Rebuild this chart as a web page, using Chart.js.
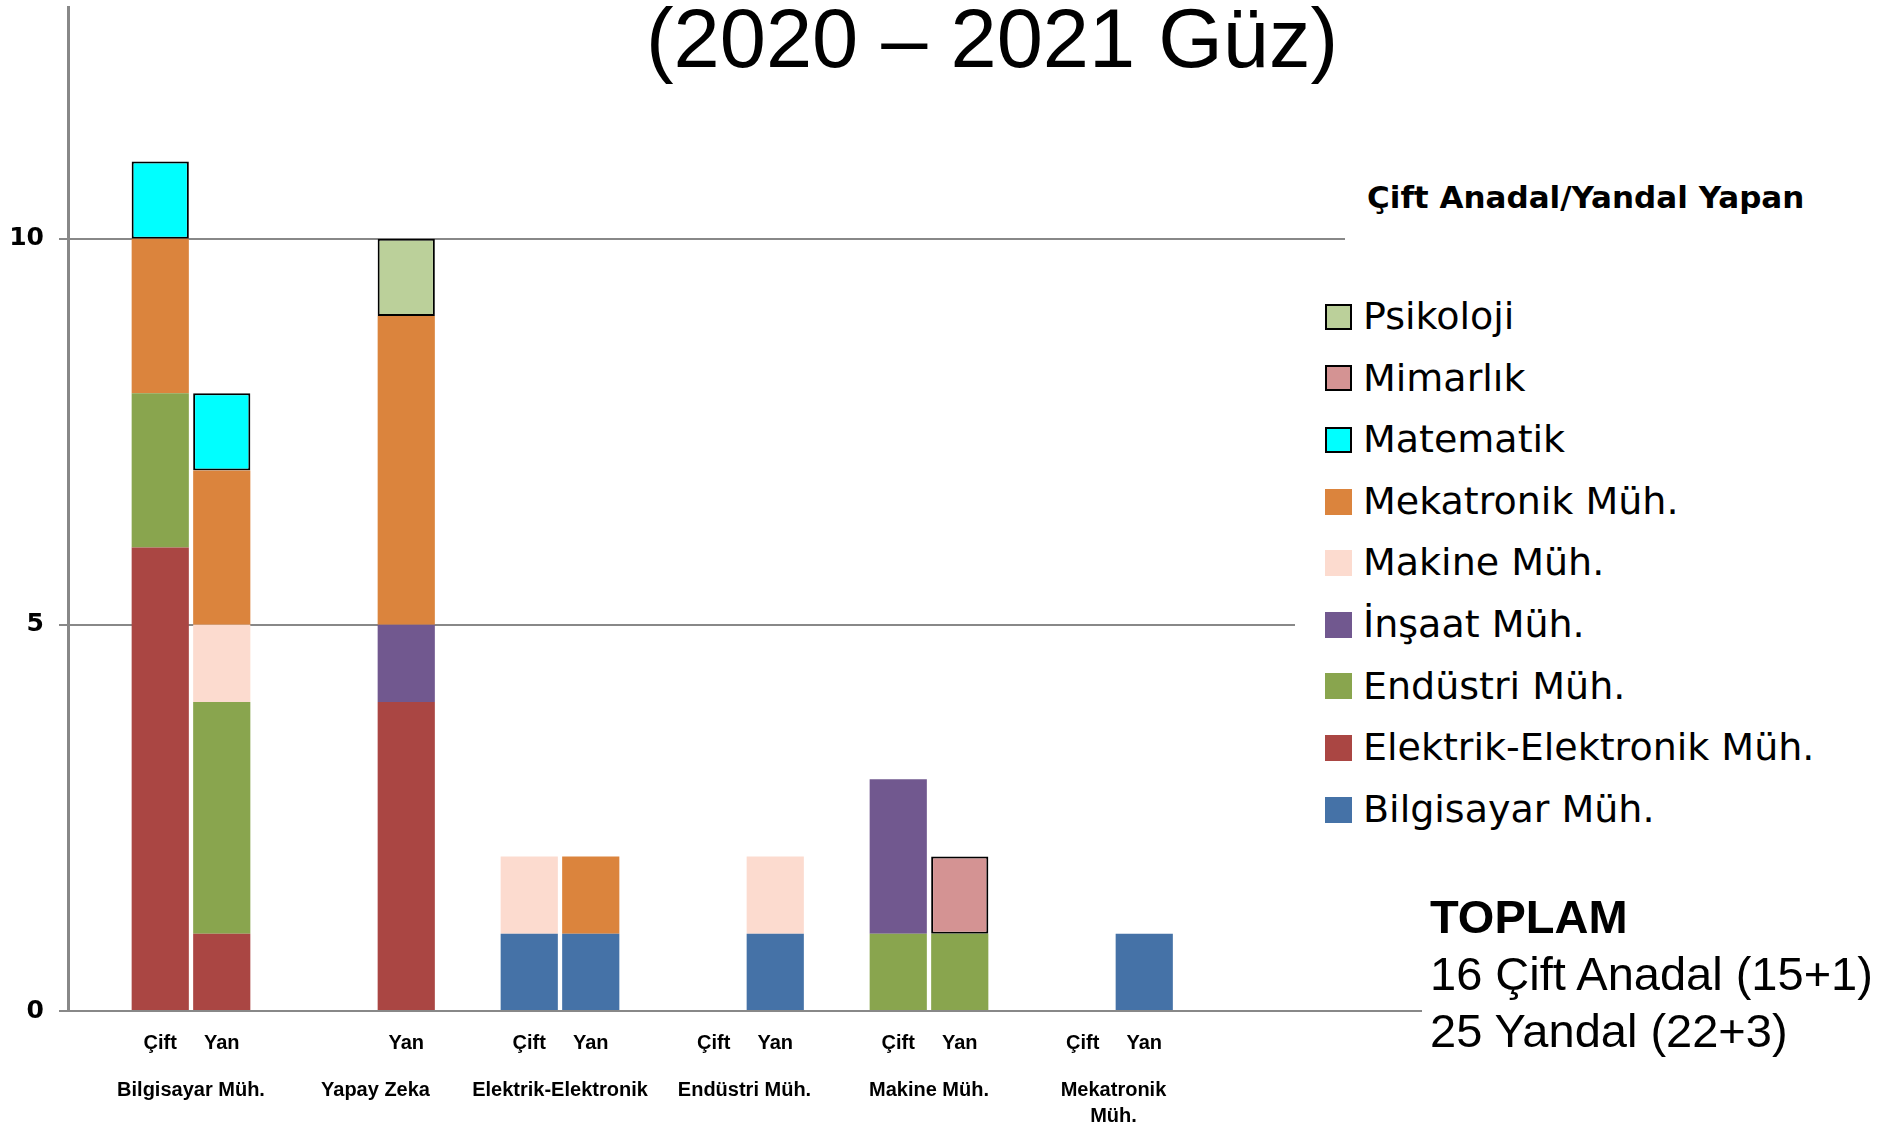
<!DOCTYPE html>
<html>
<head>
<meta charset="utf-8">
<script src="https://cdn.jsdelivr.net/npm/chart.js@4.4.1/dist/chart.umd.min.js"></script>
<style>
  body { margin: 0; background: #fff; }
  #wrap { position: relative; width: 1884px; height: 1127px; overflow: hidden; }
  #title {
    position: absolute; left: 992px; top: -2px; transform: translateX(-50%);
    font: 83px/82px "Liberation Sans", Arial, sans-serif; white-space: nowrap; color: #000;
  }
  #legendTitle {
    position: absolute; left: 1345px; top: 152px; width: 530px; height: 90px;
    padding-left: 22px; box-sizing: border-box; background: #fff;
    font: bold 31px/90px "DejaVu Sans", sans-serif; white-space: nowrap; color: #000;
  }
  #legend {
    position: absolute; left: 1295px; top: 286px; width: 585px; background: #fff;
  }
  .item { height: 61.6px; display: flex; align-items: center; white-space: nowrap;
    font: 38px/61.6px "DejaVu Sans", sans-serif; color: #000; }
  .box { width: 27px; height: 26px; margin-left: 30px; margin-right: 11px; box-sizing: border-box; }
  #total {
    position: absolute; left: 1430px; top: 888px; white-space: nowrap;
    font: 47px/57px "Liberation Sans", Arial, sans-serif; color: #000;
  }
</style>
</head>
<body>
<div id="wrap">
  <canvas id="chart"></canvas>
  <div id="title">(2020 – 2021 Güz)</div>
  <div id="legendTitle">Çift Anadal/Yandal Yapan</div>
  <div id="legend"></div>
  <div id="total"><b>TOPLAM</b><br>16 Çift Anadal (15+1)<br>25 Yandal (22+3)</div>
</div>
<script>
// one slot per bar position, blank slots separate the departments
const slotLabels = ["", "Çift", "Yan", "", "", "Yan", "", "Çift", "Yan", "", "Çift", "Yan", "",
  "Çift", "Yan", "", "Çift", "Yan", "", "", "", ""];
const groupNames = ["Bilgisayar Müh.", "Yapay Zeka", "Elektrik-Elektronik", "Endüstri Müh.",
  "Makine Müh.", ["Mekatronik", "Müh."]];
const groupFirstSlot = [1, 4, 7, 10, 13, 16];
const yTicks = [0, 5, 10];

//                  0  1  2  3  4  5  6  7  8  9 10 11 12 13 14 15 16 17 18 19 20 21
const bilgisayar = [0, 0, 0, 0, 0, 0, 0, 1, 1, 0, 0, 1, 0, 0, 0, 0, 0, 1, 0, 0, 0, 0];
const elektrik   = [0, 6, 1, 0, 0, 4, 0, 0, 0, 0, 0, 0, 0, 0, 0, 0, 0, 0, 0, 0, 0, 0];
const endustri   = [0, 2, 3, 0, 0, 0, 0, 0, 0, 0, 0, 0, 0, 1, 1, 0, 0, 0, 0, 0, 0, 0];
const insaat     = [0, 0, 0, 0, 0, 1, 0, 0, 0, 0, 0, 0, 0, 2, 0, 0, 0, 0, 0, 0, 0, 0];
const makine     = [0, 0, 1, 0, 0, 0, 0, 1, 0, 0, 0, 1, 0, 0, 0, 0, 0, 0, 0, 0, 0, 0];
const mekatronik = [0, 2, 2, 0, 0, 4, 0, 0, 1, 0, 0, 0, 0, 0, 0, 0, 0, 0, 0, 0, 0, 0];
const matematik  = [0, 1, 1, 0, 0, 0, 0, 0, 0, 0, 0, 0, 0, 0, 0, 0, 0, 0, 0, 0, 0, 0];
const mimarlik   = [0, 0, 0, 0, 0, 0, 0, 0, 0, 0, 0, 0, 0, 0, 1, 0, 0, 0, 0, 0, 0, 0];
const psikoloji  = [0, 0, 0, 0, 0, 1, 0, 0, 0, 0, 0, 0, 0, 0, 0, 0, 0, 0, 0, 0, 0, 0];

function ds(label, data, color, outlined) {
  return {
    label, data,
    backgroundColor: color,
    borderColor: "#000",
    borderWidth: (c) => (outlined && c.raw ? 2 : 0),
    borderSkipped: false,
    outlined,
  };
}

const datasets = [
  ds("Bilgisayar Müh.", bilgisayar, "#4572A7", false),
  ds("Elektrik-Elektronik Müh.", elektrik, "#AA4643", false),
  ds("Endüstri Müh.", endustri, "#89A54E", false),
  ds("İnşaat Müh.", insaat, "#71588F", false),
  ds("Makine Müh.", makine, "#FCDBCF", false),
  ds("Mekatronik Müh.", mekatronik, "#DB843D", false),
  ds("Matematik", matematik, "#00FFFF", true),
  ds("Mimarlık", mimarlik, "#D49393", true),
  ds("Psikoloji", psikoloji, "#BBD09A", true),
];

const chart = new Chart(document.getElementById("chart"), {
  type: "bar",
  data: { labels: slotLabels, datasets },
  options: {
    responsive: true,
    maintainAspectRatio: false,
    animation: false,
    layout: { padding: { left: 0, top: 7, right: 463, bottom: 0 } },
    datasets: { bar: { barPercentage: 0.93, categoryPercentage: 1 } },
    plugins: { legend: { display: false }, tooltip: { enabled: false } },
    scales: {
      x: {
        stacked: true,
        grid: { display: false, drawTicks: false },
        border: { display: true, color: "#888", width: 2 },
        ticks: {
          autoSkip: false, maxRotation: 0, padding: 20, color: "#000",
          font: { family: "Liberation Sans", weight: "bold", size: 20 },
        },
        afterFit(s) { s.height = 66; s.paddingLeft = 0; s.paddingRight = 0; },
      },
      x2: {
        type: "linear",
        position: "bottom",
        offset: false,
        min: 0,
        max: slotLabels.length,
        grid: { display: false, drawTicks: false, offset: false },
        border: { display: false },
        afterBuildTicks(s) { s.ticks = groupFirstSlot.map((v) => ({ value: v + 1 })); },
        ticks: {
          autoSkip: false, maxRotation: 0, padding: 0, color: "#000",
          font: { family: "Liberation Sans", weight: "bold", size: 20, lineHeight: 1.3 },
          callback: (v, i) => groupNames[i],
        },
        afterFit(s) { s.height = 50; s.paddingLeft = 0; s.paddingRight = 0; },
      },
      y: {
        stacked: true,
        min: 0,
        max: 13,
        afterBuildTicks(s) { s.ticks = yTicks.map((v) => ({ value: v })); },
        grid: { color: "#888", lineWidth: 2, tickLength: 9 },
        border: { color: "#888", width: 3 },
        ticks: {
          padding: 15, color: "#000",
          font: { family: "DejaVu Sans", weight: "bold", size: 25 },
        },
        afterFit(s) { s.width = 68; s.paddingTop = 0; s.paddingBottom = 0; },
      },
    },
  },
});

// legend, top to bottom in reverse stacking order
const legendEl = document.getElementById("legend");
chart.data.datasets.slice().reverse().forEach((d) => {
  const row = document.createElement("div");
  row.className = "item";
  const box = document.createElement("span");
  box.className = "box";
  box.style.background = d.backgroundColor;
  if (d.outlined) box.style.border = "2px solid #000";
  row.appendChild(box);
  row.appendChild(document.createTextNode(d.label));
  legendEl.appendChild(row);
});
</script>
</body>
</html>
